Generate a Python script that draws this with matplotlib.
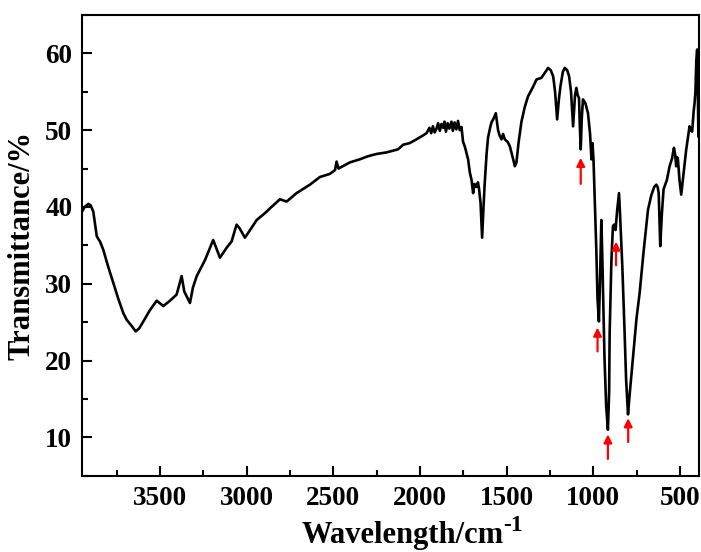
import numpy as np
import matplotlib
matplotlib.use("Agg")
from matplotlib import pyplot as plt
from matplotlib.ticker import MultipleLocator

# FTIR spectrum (wavenumber / cm-1, transmittance / %)
wavenumber = [
    3950, 3935, 3913, 3900, 3885, 3865, 3855, 3846, 3827, 3800, 3769, 3740,
    3712, 3692, 3663, 3640, 3620, 3596, 3560, 3519, 3481, 3442, 3404, 3375,
    3360, 3327, 3310, 3288, 3240, 3193, 3154, 3115, 3087, 3058, 3040, 3010,
    2980, 2942, 2894, 2866, 2808, 2769, 2712, 2635, 2577, 2520, 2490, 2481,
    2470, 2462, 2404, 2347, 2300, 2250, 2193, 2126, 2097, 2060, 2020, 1990,
    1962, 1945, 1935, 1925, 1915, 1904, 1895, 1885, 1876, 1866, 1858, 1850,
    1840, 1830, 1818, 1810, 1800, 1790, 1780, 1770, 1760, 1751, 1740, 1722,
    1712, 1702, 1693, 1685, 1674, 1665, 1659, 1650, 1641, 1633, 1626, 1615,
    1607, 1595, 1587, 1575, 1562, 1555, 1549, 1540, 1529, 1520, 1510, 1495,
    1481, 1465, 1452, 1443, 1430, 1414, 1395, 1376, 1350, 1327, 1299, 1275,
    1260, 1245, 1231, 1220, 1208, 1198, 1189, 1175, 1164, 1150, 1139, 1128,
    1116, 1105, 1097, 1089, 1082, 1077, 1072, 1066, 1059, 1045, 1030, 1018,
    1010, 1004, 998, 990, 982, 975, 967, 960, 953, 948, 944, 935,
    925, 915, 908, 905, 895, 886, 879, 871, 862, 851, 845, 832,
    820, 810, 799, 790, 770, 750, 732, 710, 684, 665, 648, 636,
    628, 622, 613, 604, 594, 575, 559, 545, 534, 527, 521, 516,
    511, 502, 492, 480, 463, 450, 444, 436, 429, 420, 415, 410,
    405, 400, 396, 393,
]
transmittance = [
    39.4, 40.0, 40.4, 40.2, 39.4, 36.2, 35.8, 35.5, 34.4, 32.3, 30.1, 28.0,
    26.2, 25.3, 24.5, 23.8, 24.2, 25.1, 26.5, 27.8, 27.1, 27.8, 28.6, 31.0,
    29.0, 27.5, 29.5, 31.0, 33.1, 35.7, 33.4, 34.7, 35.5, 37.7, 37.2, 36.0,
    37.0, 38.3, 39.2, 39.8, 41.0, 40.7, 41.8, 42.9, 43.9, 44.3, 44.8, 45.9,
    45.0, 45.1, 45.8, 46.2, 46.6, 46.9, 47.1, 47.5, 48.1, 48.3, 48.8, 49.2,
    49.6, 50.3, 49.6, 50.5, 49.7, 50.2, 50.9, 49.9, 50.8, 50.3, 51.1, 49.8,
    50.9, 50.2, 51.1, 49.9, 51.0, 50.1, 51.2, 50.0, 50.4, 48.5, 47.8, 46.2,
    44.5, 43.5, 41.8, 43.0, 42.6, 43.2, 42.4, 40.5, 36.0, 40.0, 43.1, 47.0,
    49.0, 50.3, 51.0, 51.5, 52.2, 51.0, 50.0, 49.3, 48.8, 49.5, 48.8, 48.5,
    47.9, 46.5, 45.3, 45.8, 48.5, 51.1, 53.0, 54.4, 55.5, 56.6, 56.8, 57.6,
    58.1, 57.8, 57.0, 55.0, 51.4, 54.0, 55.7, 57.6, 58.1, 57.8, 57.0, 55.0,
    50.5, 54.5, 55.5, 54.5, 54.2, 50.5, 47.5, 51.5, 54.0, 53.5, 52.2, 49.5,
    46.2, 48.3, 46.0, 40.0, 34.4, 28.0, 25.1, 31.0, 38.3, 34.0, 29.7, 20.5,
    14.0, 11.0, 16.0, 23.6, 33.0, 37.5, 37.7, 37.0, 39.5, 41.8, 39.0, 32.3,
    24.5, 17.5, 13.0, 15.5, 20.5, 25.5, 28.8, 34.0, 39.6, 41.5, 42.6, 42.9,
    42.6, 41.8, 34.9, 39.0, 42.3, 43.5, 45.3, 46.3, 47.7, 46.8, 45.3, 46.5,
    46.2, 43.5, 41.6, 44.0, 47.5, 49.5, 50.5, 50.0, 49.8, 52.5, 53.5, 55.0,
    59.0, 60.5, 55.0, 49.2,
]

# red arrows marking the bands: (wavenumber, tip, tail)
arrow_x = [1072, 975, 915, 868, 798]
arrow_tip = [46.4, 24.3, 10.4, 35.5, 12.5]
arrow_tail = [43.0, 21.2, 7.2, 32.4, 9.4]

plt.rcParams['font.family'] = ['Liberation Serif', 'DejaVu Serif']
plt.rcParams['font.weight'] = 'bold'

W, H = 701, 552
fig = plt.figure(figsize=(W / 100, H / 100), dpi=100)
ax = fig.add_axes([0.117, 0.138, 0.880, 0.835])

ax.plot(wavenumber, transmittance, color='black', lw=1.9)

for x, tip, tail in zip(arrow_x, arrow_tip, arrow_tail):
  ax.annotate('', xy=(x, tip), xytext=(x, tail),
              arrowprops=dict(arrowstyle='-|>', color='red', lw=1.6,
                              mutation_scale=12, shrinkA=0, shrinkB=0))

ax.set_xlim(3950, 390)
ax.set_ylim(5, 65)
ax.xaxis.set_major_locator(MultipleLocator(500))
ax.xaxis.set_minor_locator(MultipleLocator(250))
ax.yaxis.set_minor_locator(MultipleLocator(5))
ax.set_yticks(range(10, 61, 10))

ax.tick_params(which='both', direction='in', width=1.5, top=False, right=False)
ax.tick_params(which='major', length=7, labelsize=19.5, pad=7)
ax.tick_params(which='minor', length=4)
for lab in ax.get_xticklabels() + ax.get_yticklabels():
  lab.set_fontweight('bold')
for sp in ax.spines.values():
  sp.set_linewidth(1.5)

ax.set_ylabel("Transmittance/%", fontsize=22, fontweight='bold', labelpad=6)

# x label with a raised -1, sitting low like in the original
fig.text(302 / W, 9 / H, "Wavelength/cm", fontsize=22, fontweight='bold',
         ha='left', va='baseline')
fig.text(503 / W, 21 / H, "-1", fontsize=17, fontweight='bold',
         ha='left', va='baseline')

fig.savefig("out.png", dpi=100)
